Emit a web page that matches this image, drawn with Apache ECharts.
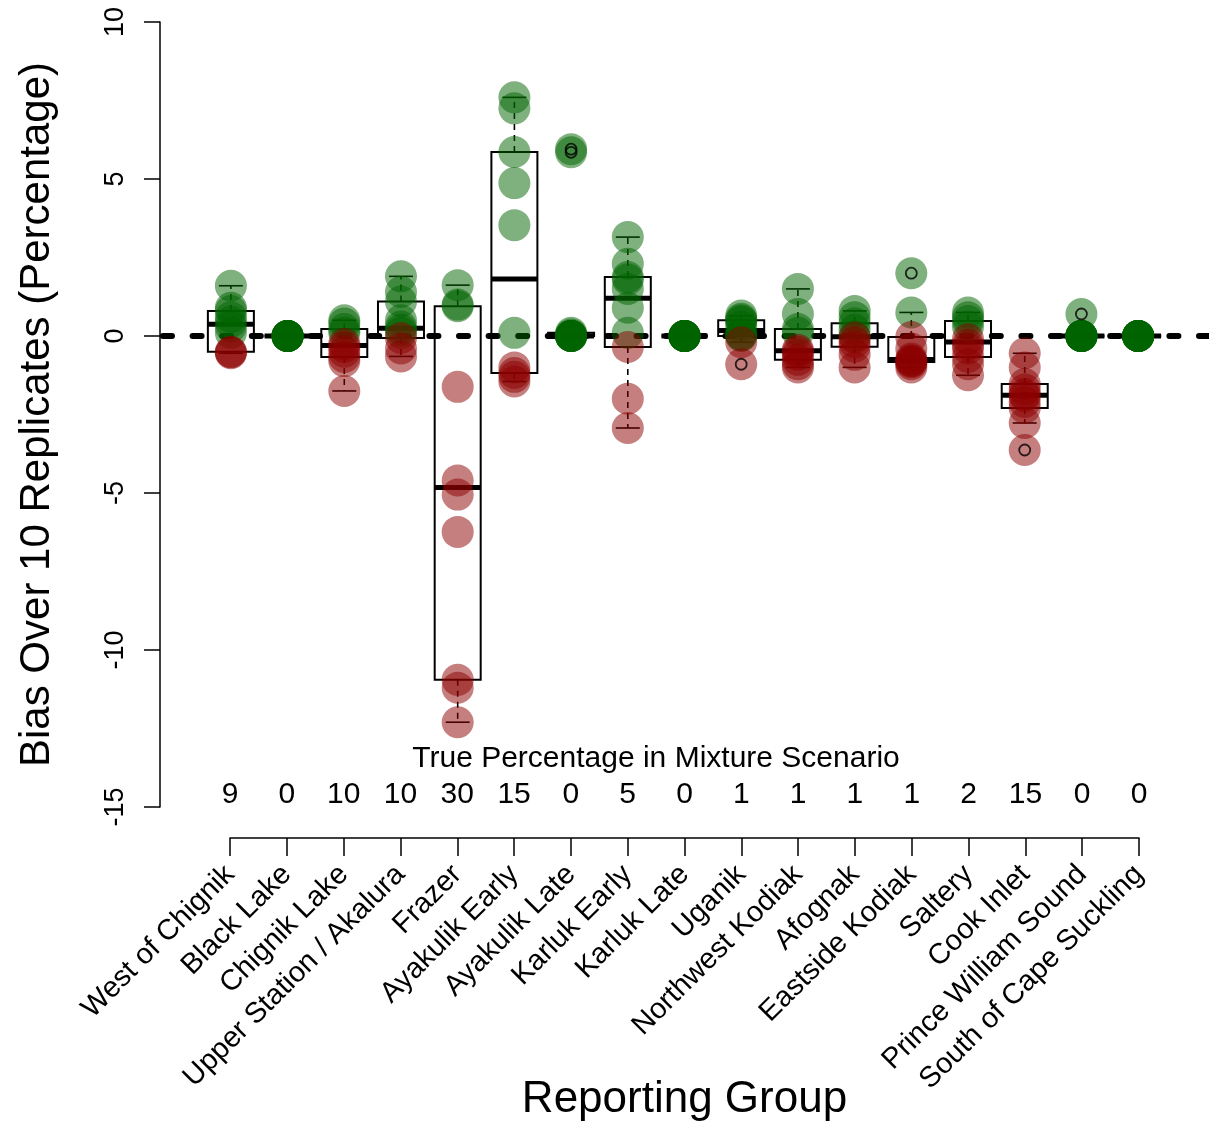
<!DOCTYPE html>
<html>
<head>
<meta charset="utf-8">
<script src="https://cdn.jsdelivr.net/npm/echarts@6/dist/echarts.min.js"></script>
<style>
  html, body { margin: 0; padding: 0; background: #fff; }
  #chart { width: 1209px; height: 1128px; }
</style>
</head>
<body>
<div id="chart"></div>
<script>
// Reporting groups and the true percentage of each in the mixture scenario
const groups = ['West of Chignik', 'Black Lake', 'Chignik Lake', 'Upper Station / Akalura', 'Frazer',
  'Ayakulik Early', 'Ayakulik Late', 'Karluk Early', 'Karluk Late', 'Uganik', 'Northwest Kodiak',
  'Afognak', 'Eastside Kodiak', 'Saltery', 'Cook Inlet', 'Prince William Sound', 'South of Cape Suckling'];
const truePct = [9, 0, 10, 10, 30, 15, 0, 5, 0, 1, 1, 1, 1, 2, 15, 0, 0];

// Bias (percentage points) for each of the 10 replicates
const biasWestOfChignik = [1.6, 0.9, 0.8, 0.6, 0.45, 0.3, 0.1, -0.5, -0.52, -0.55];
const biasBlackLake = [0, 0, 0, 0, 0, 0, 0, 0, 0, 0];
const biasChignikLake = [0.5, 0.4, 0.22, 0.1, -0.25, -0.35, -0.5, -0.67, -0.8, -1.75];
const biasUpperStation = [1.9, 1.4, 1.1, 0.5, 0.3, 0.2, 0.1, -0.06, -0.4, -0.65];
const biasFrazer = [1.62, 1.0, 0.95, -1.62, -4.6, -5.05, -6.24, -10.95, -11.2, -12.3];
const biasAyakulikEarly = [7.6, 7.25, 5.86, 4.87, 3.53, 0.1, -1.0, -1.18, -1.3, -1.45];
const biasAyakulikLate = [5.95, 5.85, 0.1, 0.05, 0, 0, 0, 0, 0, 0];
const biasKarlukEarly = [3.15, 2.3, 1.88, 1.8, 1.5, 0.9, 0.1, -0.35, -2.0, -2.93];
const biasKarlukLate = [0, 0, 0, 0, 0, 0, 0, 0, 0, 0];
const biasUganik = [0.65, 0.55, 0.5, 0.45, 0.3, 0.05, 0.02, 0, -0.2, -0.9];
const biasNorthwestKodiak = [1.5, 0.7, 0.22, 0.1, -0.44, -0.5, -0.6, -0.76, -0.9, -1.0];
const biasAfognak = [0.8, 0.6, 0.41, 0.2, 0, -0.05, -0.2, -0.34, -0.6, -1.0];
const biasEastsideKodiak = [2.0, 0.75, -0.03, -0.4, -0.72, -0.78, -0.8, -0.83, -0.9, -1.0];
const biasSaltery = [0.75, 0.6, 0.48, 0.3, -0.1, -0.28, -0.4, -0.67, -0.9, -1.25];
const biasCookInlet = [-0.55, -1.0, -1.53, -1.7, -1.85, -1.92, -2.1, -2.29, -2.77, -3.63];
const biasPrinceWilliamSound = [0.7, 0, 0, 0, 0, 0, 0, 0, 0, 0];
const biasSouthOfCapeSuckling = [0, 0, 0, 0, 0, 0, 0, 0, 0, 0];

const biasByGroup = [biasWestOfChignik, biasBlackLake, biasChignikLake, biasUpperStation, biasFrazer,
  biasAyakulikEarly, biasAyakulikLate, biasKarlukEarly, biasKarlukLate, biasUganik, biasNorthwestKodiak,
  biasAfognak, biasEastsideKodiak, biasSaltery, biasCookInlet, biasPrinceWilliamSound, biasSouthOfCapeSuckling];

const yTicks = { min: -15, max: 10, step: 5 };

// Tukey five-number summary (hinges) and 1.5 * IQR whisker rule
function fivenum(values) {
  const x = values.slice().sort((a, b) => a - b);
  const n = x.length;
  const n4 = Math.floor((n + 3) / 2) / 2;
  const d = [1, n4, (n + 1) / 2, n + 1 - n4, n];
  return d.map(k => 0.5 * (x[Math.floor(k) - 1] + x[Math.ceil(k) - 1]));
}
function boxStats(values) {
  const s = fivenum(values);
  const iqr = s[3] - s[1];
  const lowFence = s[1] - 1.5 * iqr, highFence = s[3] + 1.5 * iqr;
  const inside = values.filter(v => v >= lowFence && v <= highFence);
  const out = values.filter(v => v < lowFence || v > highFence);
  return { lo: Math.min(...inside), q1: s[1], med: s[2], q3: s[3], hi: Math.max(...inside), out };
}

const boxData = [];
const outlierData = [];
const pointData = [];
biasByGroup.forEach((vals, i) => {
  const st = boxStats(vals);
  boxData.push([i + 1, st.lo, st.q1, st.med, st.q3, st.hi]);
  st.out.forEach(v => outlierData.push([i + 1, v]));
  vals.forEach(v => pointData.push({
    value: [i + 1, v],
    itemStyle: { color: v >= 0 ? '#006400' : '#8B0000' }
  }));
});

const FONT = 'Liberation Sans';
const chart = echarts.init(document.getElementById('chart'), null, { renderer: 'canvas' });

chart.setOption({
  animation: false,
  backgroundColor: '#ffffff',
  textStyle: { fontFamily: FONT, color: '#000' },
  grid: [
    { left: 160, top: 22, width: 1049, height: 785 },
    { left: 230, width: 909, top: 828, height: 10 }
  ],
  xAxis: [
    { type: 'value', gridIndex: 0, min: -0.25, max: 18.25, show: false },
    {
      type: 'category', gridIndex: 1, data: groups, boundaryGap: false, position: 'bottom',
      axisLine: { onZero: false, lineStyle: { color: '#000', width: 1.5 } },
      axisTick: { show: true, length: 18, interval: 0, lineStyle: { color: '#000', width: 1.5 } },
      axisLabel: { interval: 0, rotate: 45, fontSize: 29, margin: 32, color: '#000', fontFamily: FONT },
      splitLine: { show: false },
      name: 'Reporting Group', nameLocation: 'middle', nameGap: 240, nameMoveOverlap: false,
      nameTextStyle: { fontSize: 44, color: '#000', fontFamily: FONT }
    },
    {
      type: 'category', gridIndex: 1, data: truePct.map(String), boundaryGap: false, position: 'top',
      axisLine: { show: false, onZero: false }, axisTick: { show: false }, splitLine: { show: false },
      axisLabel: { interval: 0, fontSize: 30, margin: 18, color: '#000', fontFamily: FONT }
    }
  ],
  yAxis: [
    {
      type: 'value', gridIndex: 0, min: yTicks.min, max: yTicks.max, interval: yTicks.step,
      axisLine: { show: true, onZero: false, lineStyle: { color: '#000', width: 1.5 } },
      axisTick: { show: true, length: 16, lineStyle: { color: '#000', width: 1.5 } },
      axisLabel: { rotate: 90, fontSize: 27, margin: 31, color: '#000', fontFamily: FONT },
      splitLine: { show: false },
      name: 'Bias Over 10 Replicates (Percentage)', nameLocation: 'middle', nameGap: 102,
      nameTextStyle: { fontSize: 42, color: '#000', fontFamily: FONT }
    },
    { type: 'value', gridIndex: 1, show: false }
  ],
  graphic: [{
    type: 'text', x: 656, y: 759,
    style: {
      text: 'True Percentage in Mixture Scenario', fontSize: 30, fontFamily: FONT, fill: '#000',
      align: 'center', verticalAlign: 'middle'
    }
  }],
  series: [
    {
      // zero-bias reference line
      type: 'line', xAxisIndex: 0, yAxisIndex: 0, z: 1,
      data: [[-0.25, 0], [18.25, 0]], symbol: 'none', silent: true,
      lineStyle: { color: '#000', width: 6, type: [9, 20.6], dashOffset: -3, cap: 'round' }
    },
    {
      type: 'custom', xAxisIndex: 0, yAxisIndex: 0, z: 2, silent: true,
      data: boxData,
      encode: { x: 0, y: [1, 2, 3, 4, 5] },
      renderItem: function (params, api) {
        const x = api.value(0);
        const pLo = api.coord([x, api.value(1)]);
        const pQ1 = api.coord([x, api.value(2)]);
        const pMed = api.coord([x, api.value(3)]);
        const pQ3 = api.coord([x, api.value(4)]);
        const pHi = api.coord([x, api.value(5)]);
        const cx = pQ1[0], hw = 23, cw = 12;
        const thin = { stroke: '#000', lineWidth: 1.6 };
        const dashed = { stroke: '#000', lineWidth: 1.6, lineDash: [6, 5] };
        return {
          type: 'group',
          children: [
            { type: 'line', shape: { x1: cx, y1: pQ3[1], x2: cx, y2: pHi[1] }, style: dashed },
            { type: 'line', shape: { x1: cx, y1: pQ1[1], x2: cx, y2: pLo[1] }, style: dashed },
            { type: 'line', shape: { x1: cx - cw, y1: pHi[1], x2: cx + cw, y2: pHi[1] }, style: thin },
            { type: 'line', shape: { x1: cx - cw, y1: pLo[1], x2: cx + cw, y2: pLo[1] }, style: thin },
            { type: 'rect', shape: { x: cx - hw, y: pQ3[1], width: 2 * hw, height: pQ1[1] - pQ3[1] },
              style: { fill: 'none', stroke: '#000', lineWidth: 2 } },
            { type: 'line', shape: { x1: cx - hw, y1: pMed[1], x2: cx + hw, y2: pMed[1] },
              style: { stroke: '#000', lineWidth: 5 } }
          ]
        };
      }
    },
    {
      type: 'scatter', xAxisIndex: 0, yAxisIndex: 0, z: 3, silent: true,
      symbol: 'circle', symbolSize: 32,
      itemStyle: { opacity: 0.5 },
      data: pointData
    },
    {
      type: 'scatter', xAxisIndex: 0, yAxisIndex: 0, z: 4, silent: true,
      symbol: 'circle', symbolSize: 11,
      itemStyle: { color: 'rgba(0,0,0,0)', borderColor: '#000', borderWidth: 1.8 },
      data: outlierData
    }
  ]
});
</script>
</body>
</html>
